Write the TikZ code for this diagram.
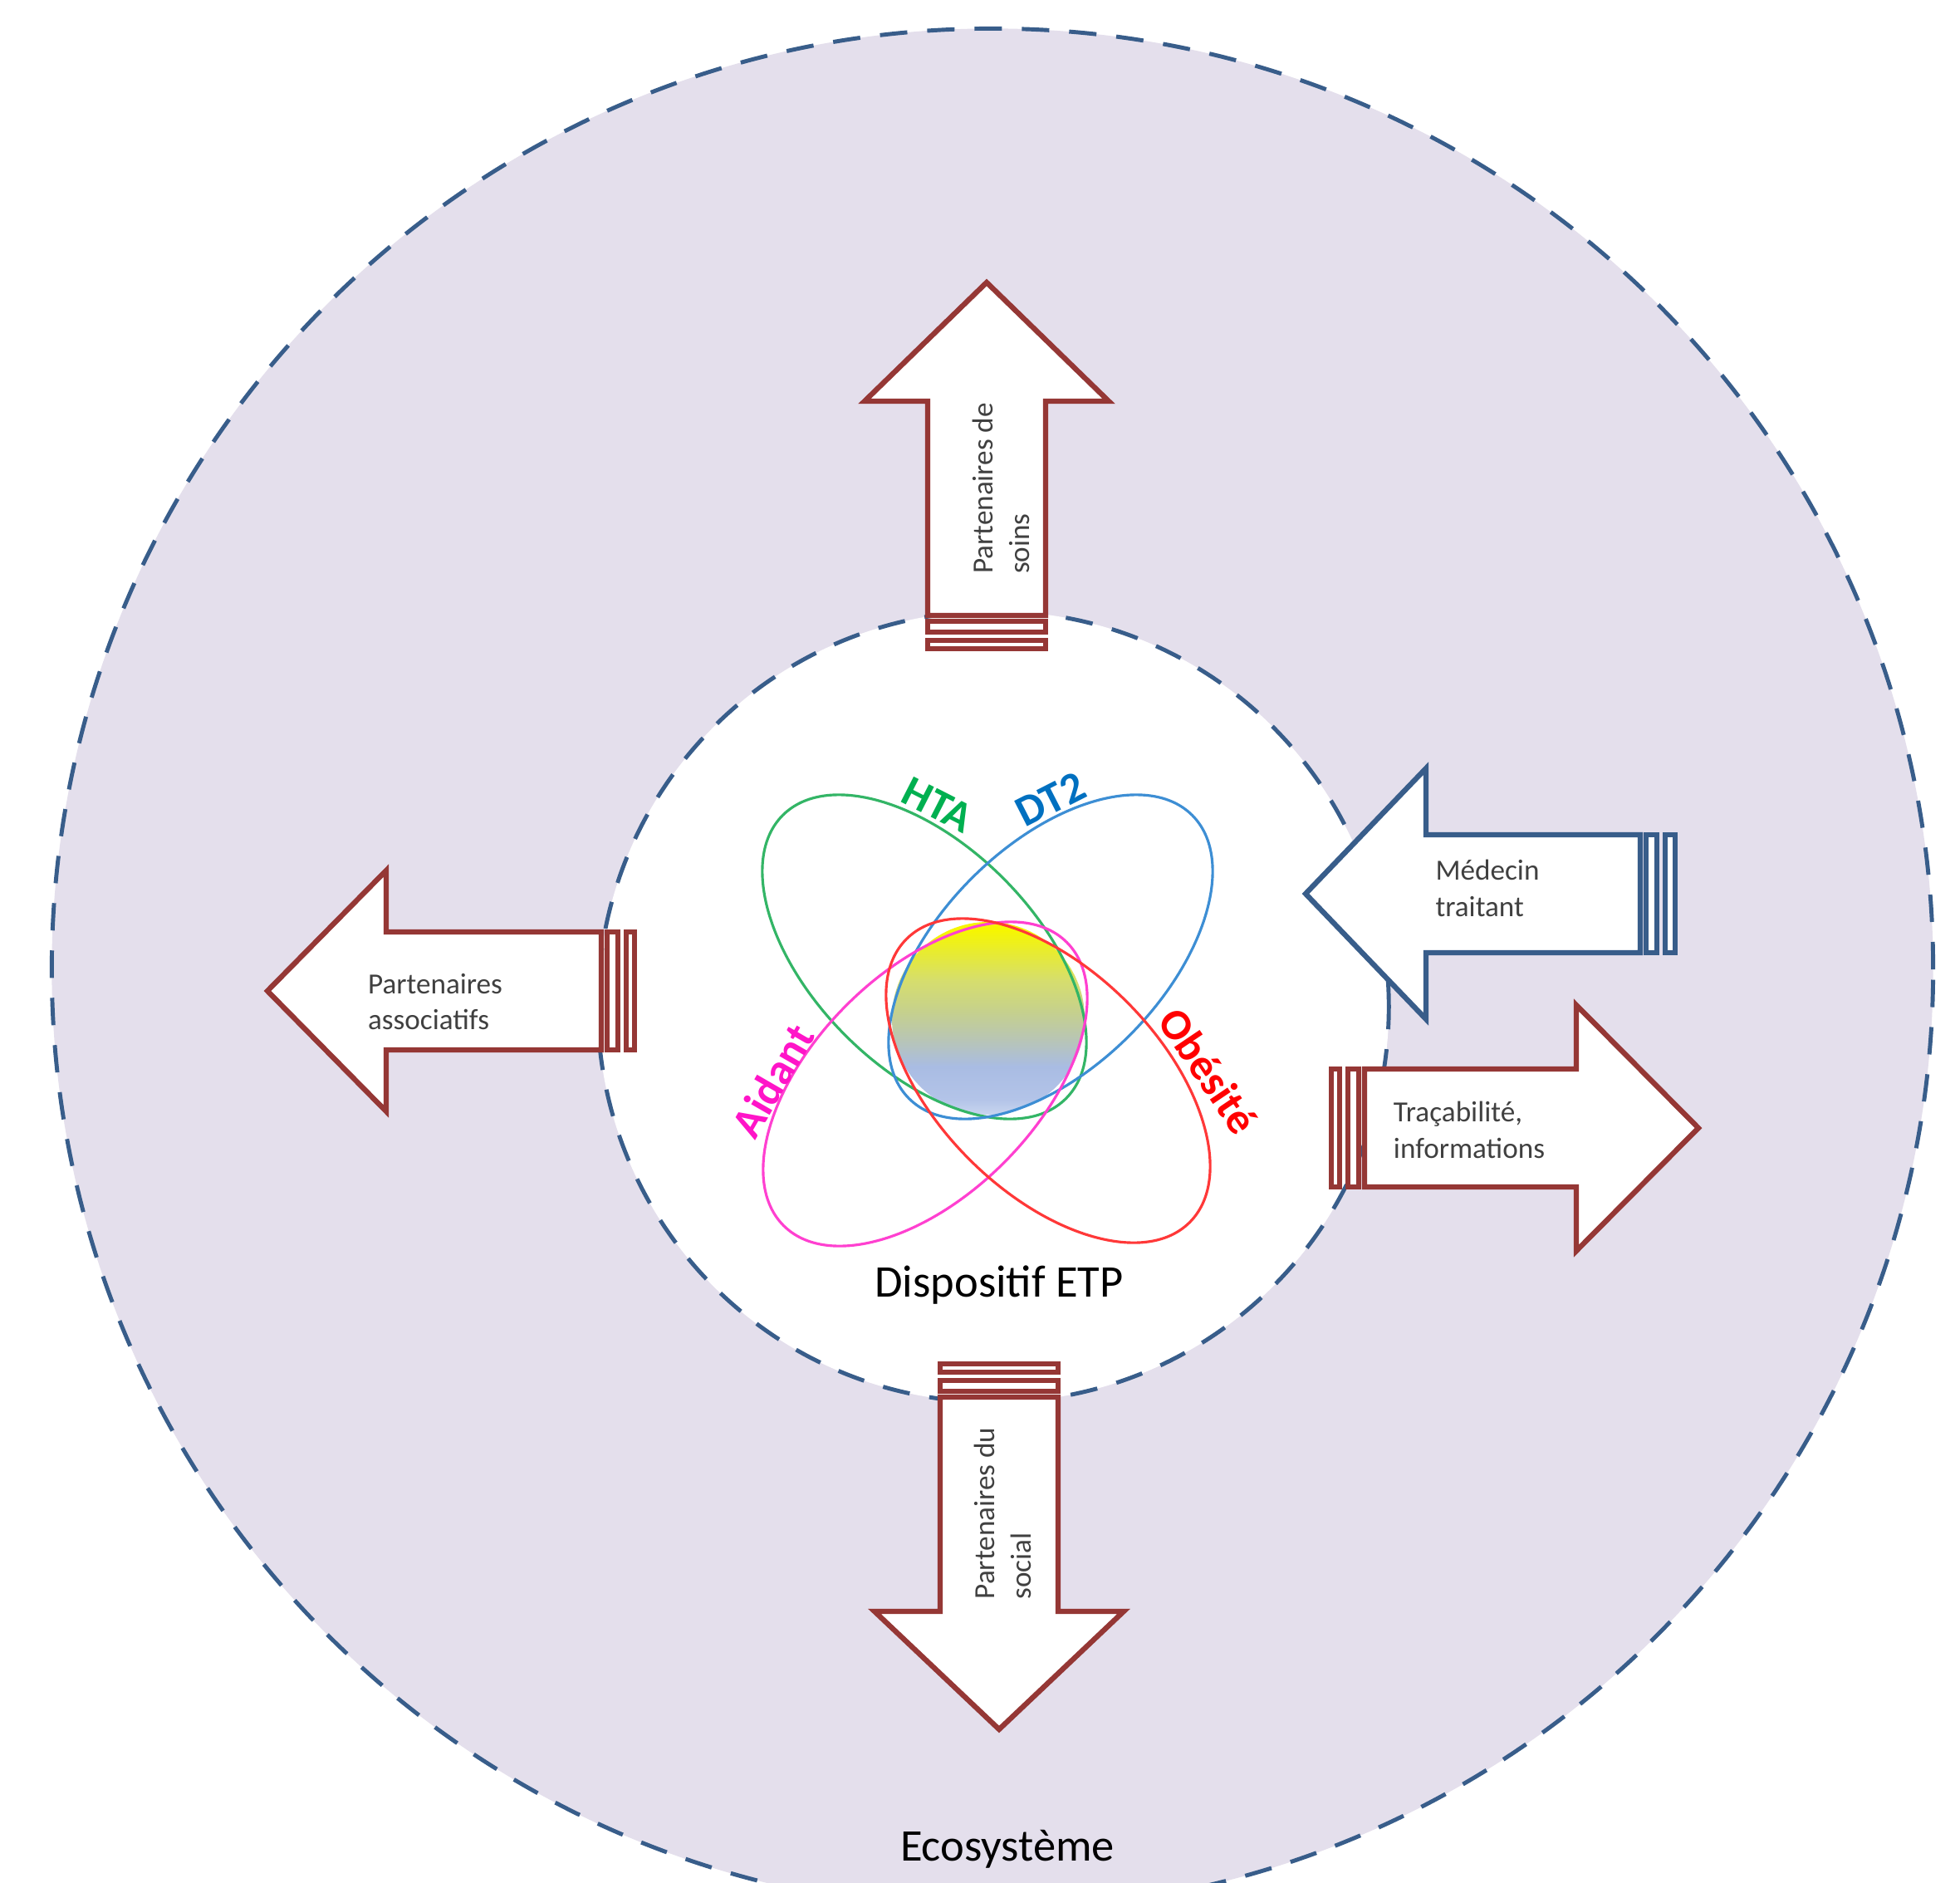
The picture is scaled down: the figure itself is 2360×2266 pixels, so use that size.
\documentclass[tikz,border=0pt]{standalone}
\usepackage{fontspec}
\setmainfont{Carlito}
\usetikzlibrary{shapes.geometric}
\definecolor{lav}{HTML}{E4DFEC}
\definecolor{ringblue}{HTML}{385D8A}
\definecolor{arrred}{HTML}{953735}
\definecolor{arrblue}{HTML}{385D8A}
\definecolor{txtgray}{HTML}{404040}
\definecolor{ellgreen}{HTML}{33B566}
\definecolor{ellblue}{HTML}{3D8ED4}
\definecolor{ellpink}{HTML}{FF40D0}
\definecolor{ellred}{HTML}{FF3838}
\definecolor{htagreen}{HTML}{00B050}
\definecolor{dtblue}{HTML}{0070C0}
\definecolor{aidpink}{HTML}{FF14C8}
\definecolor{obered}{HTML}{FF0000}
\definecolor{sphA}{HTML}{F6F600}
\definecolor{sphB}{HTML}{D6DE6C}
\definecolor{sphC}{HTML}{C5D08E}
\definecolor{sphD}{HTML}{B9C6B2}
\definecolor{sphE}{HTML}{A9BCE3}
\definecolor{sphF}{HTML}{B3C4E8}
\definecolor{sphG}{HTML}{C9D5EF}
\pgfdeclareverticalshading{sphereshade}{100bp}{color(0bp)=(sphG); color(25bp)=(sphG); color(29bp)=(sphF); color(37.5bp)=(sphE); color(45bp)=(sphD); color(51.5bp)=(sphC); color(60bp)=(sphB); color(73bp)=(sphA); color(100bp)=(sphA)}
\begin{document}
\begin{tikzpicture}[x=0.01cm,y=-0.01cm,
  ring/.style={circle, draw=ringblue, line width=1.4pt, dash pattern=on 0.33cm off 0.24cm, inner sep=0},
  ell/.style={ellipse, minimum width=4.82cm, minimum height=2.68cm, inner sep=0, line width=0.9pt},
  lbl/.style={font=\bfseries\fontsize{15}{18}\selectfont, inner sep=0},
  atxt/.style={font=\fontsize{10}{12.5}\selectfont, text=txtgray, align=left, inner sep=0},
  rarrow/.style={draw=arrred, fill=white, line width=1.8pt},
  barrow/.style={draw=arrblue, fill=white, line width=1.8pt},
  bigtxt/.style={font=\fontsize{15.5}{18}\selectfont, text=black, inner sep=0}]
\useasboundingbox (0,0) rectangle (2360,2266);
\fill[white] (0,0) rectangle (2360,2266);
\clip (0,0) rectangle (2360,2266);
% circles
\node[ring, fill=lav, minimum size=22.64cm] (ecoring) at (1195,1167) {};
\node[ring, fill=white, minimum size=9.52cm] (etpring) at (1196,1212) {};
% core sphere
\node[circle, minimum size=2.32cm, inner sep=0, shade, shading=sphereshade] (core) at (1190,1226) {};
% ellipses
\node[ell, draw=ellgreen, rotate=-45] (ehta) at (1113,1152) {};
\node[ell, draw=ellblue, rotate=45] (edt) at (1265,1152) {};
\node[ell, draw=ellpink, rotate=45] (eaid) at (1114,1305) {};
\node[ell, draw=ellred, rotate=-45] (eobe) at (1262,1301) {};
% labels
\node[lbl, text=htagreen, rotate=-27] (lhta) at (1129,969) {HTA};
\node[lbl, text=dtblue, rotate=27] (ldt) at (1265,962) {DT2};
\node[lbl, text=aidpink, rotate=60] (laid) at (930,1301) {Aidant};
\node[lbl, text=obered, rotate=-56] (lobe) at (1455,1289) {Obésité};
\node[bigtxt, anchor=base] (etp) at (1203,1561) {Dispositif ETP};
\node[bigtxt, anchor=base] (eco) at (1213,2240) {Ecosystème};
% top arrow
\draw[rarrow] (1117,741) -- (1117,483) -- (1041,483) -- (1188,340) -- (1335,483) -- (1259,483) -- (1259,741) -- cycle;
\draw[rarrow] (1117,748) rectangle (1259,761);
\draw[rarrow] (1117,771) rectangle (1259,781);
\node[atxt, rotate=90] (soins) at (1205,588) {Partenaires de\\soins};
% bottom arrow
\draw[rarrow] (1132,1682) -- (1132,1940) -- (1053,1940) -- (1203,2082) -- (1353,1940) -- (1274,1940) -- (1274,1682) -- cycle;
\draw[rarrow] (1132,1662) rectangle (1274,1675);
\draw[rarrow] (1132,1642) rectangle (1274,1652);
\node[atxt, rotate=90] (social) at (1207,1822) {Partenaires du\\social};
% left arrow
\draw[rarrow] (724,1122) -- (465,1122) -- (465,1048) -- (322,1193) -- (465,1338) -- (465,1264) -- (724,1264) -- cycle;
\draw[rarrow] (731,1122) rectangle (744,1264);
\draw[rarrow] (754,1122) rectangle (764,1264);
\node[atxt] (assoc) at (524,1206) {Partenaires\\associatifs};
% medecin arrow
\draw[barrow] (1975,1005) -- (1717,1005) -- (1717,925) -- (1572,1076) -- (1717,1227) -- (1717,1147) -- (1975,1147) -- cycle;
\draw[barrow] (1982,1005) rectangle (1995,1147);
\draw[barrow] (2005,1005) rectangle (2017,1147);
\node[atxt] (medecin) at (1791,1069) {Médecin\\traitant};
% tracabilite arrow
\draw[rarrow] (1643,1287) -- (1898,1287) -- (1898,1210) -- (2045,1358) -- (1898,1506) -- (1898,1429) -- (1643,1429) -- cycle;
\draw[rarrow] (1623,1287) rectangle (1636,1429);
\draw[rarrow] (1603,1287) rectangle (1613,1429);
\node[atxt] (traca) at (1769,1360) {Traçabilité,\\informations};
\end{tikzpicture}
\end{document}
